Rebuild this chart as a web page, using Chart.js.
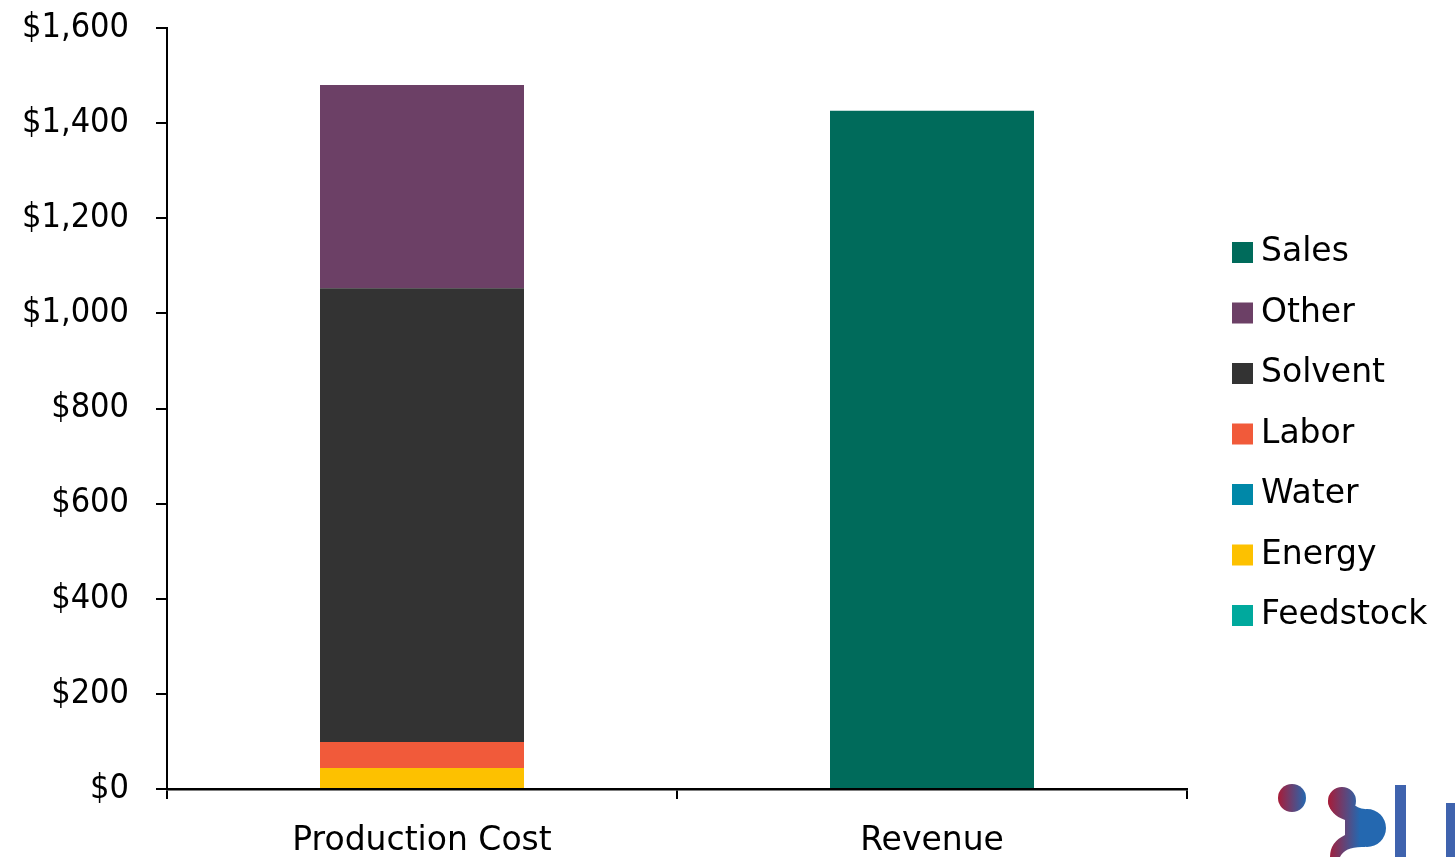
<!DOCTYPE html>
<html>
<head>
<title>Production Cost vs Revenue</title>
<script src="https://cdn.jsdelivr.net/npm/chart.js@4.4.1/dist/chart.umd.min.js"></script>
<style>
  html, body {margin: 0; padding: 0; background: #fff;}
  #wrap {width: 1455px; height: 857px;}
</style>
</head>
<body>
<div id="wrap"><canvas id="myChart" width="1455" height="857"></canvas></div>
<script>
// categories and series (values in $)
const categories = ['Production Cost', 'Revenue'];
const feedstock = [0, 0];
const energy = [44, 0];
const water = [0, 0];
const labor = [55, 0];
const solvent = [954, 0];
const other = [427, 0];
const sales = [0, 1426];
const yMin = 0, yMax = 1600, yStep = 200;

const fontFamily = '"DejaVu Sans", sans-serif';
const tickFamily = '"DejaVu Sans Condensed", "DejaVu Sans", sans-serif';
Chart.defaults.font.family = fontFamily;
Chart.defaults.color = '#000';

// legend drawn on the right, Sales first (reverse of stack order)
const sideLegend = {
  id: 'sideLegend',
  afterDraw(chart) {
    const ctx = chart.ctx;
    const sets = chart.data.datasets.slice().reverse();
    const x = chart.chartArea.right + 45;
    ctx.save();
    ctx.font = '33px ' + fontFamily;
    ctx.textBaseline = 'middle';
    sets.forEach((ds, i) => {
      const y = 252.5 + i * 60.5;
      ctx.fillStyle = ds.backgroundColor;
      ctx.fillRect(x, y - 10.5, 21, 21);
      ctx.fillStyle = '#000';
      ctx.fillText(ds.label, x + 29, y);
    });
    ctx.restore();
  }
};

// the partial logo in the bottom right corner
const logo = {
  id: 'logo',
  afterDraw(chart) {
    const ctx = chart.ctx;
    ctx.save();
    let g = ctx.createLinearGradient(1278, 0, 1306, 0);
    g.addColorStop(0, '#a81c38');
    g.addColorStop(1, '#2468b0');
    ctx.fillStyle = g;
    ctx.beginPath();
    ctx.arc(1292, 798, 14, 0, Math.PI * 2);
    ctx.fill();

    g = ctx.createLinearGradient(1328, 0, 1386, 0);
    g.addColorStop(0, '#a81c38');
    g.addColorStop(0.55, '#2468b0');
    g.addColorStop(1, '#2468b0');
    ctx.fillStyle = g;
    ctx.beginPath();
    ctx.arc(1342, 801, 14, 0, Math.PI * 2);
    ctx.arc(1367, 828, 19, 0, Math.PI * 2);
    ctx.fill();
    ctx.beginPath();
    ctx.moveTo(1342, 787);
    ctx.quadraticCurveTo(1350, 808, 1365, 809);
    ctx.lineTo(1365, 847);
    ctx.quadraticCurveTo(1345, 846, 1340, 857);
    ctx.lineTo(1330, 857);
    ctx.quadraticCurveTo(1330, 842, 1345, 835);
    ctx.lineTo(1345, 820);
    ctx.quadraticCurveTo(1330, 815, 1328, 801);
    ctx.closePath();
    ctx.fill();

    ctx.fillStyle = '#3f63ae';
    ctx.fillRect(1395, 785, 11, 72);
    ctx.fillRect(1446, 803, 9, 54);
    ctx.restore();
  }
};

const ctx = document.getElementById('myChart');
const chart = new Chart(ctx, {
  type: 'bar',
  data: {
    labels: categories,
    datasets: [
      {label: 'Feedstock', data: feedstock, backgroundColor: '#00a99d'},
      {label: 'Energy', data: energy, backgroundColor: '#fdc100'},
      {label: 'Water', data: water, backgroundColor: '#0088a8'},
      {label: 'Labor', data: labor, backgroundColor: '#f15a3a'},
      {label: 'Solvent', data: solvent, backgroundColor: '#333333'},
      {label: 'Other', data: other, backgroundColor: '#6c4066'},
      {label: 'Sales', data: sales, backgroundColor: '#006b5b'}
    ]
  },
  options: {
    responsive: false,
    animation: false,
    devicePixelRatio: 1,
    datasets: {bar: {categoryPercentage: 1, barPercentage: 0.4, borderWidth: 0}},
    layout: {padding: {top: 28, right: 268, bottom: 0, left: 0}},
    plugins: {legend: {display: false}, tooltip: {enabled: false}},
    scales: {
      x: {
        stacked: true,
        grid: {drawOnChartArea: false, offset: true, tickLength: 10, color: '#000', lineWidth: 2},
        border: {color: '#000', width: 2.5},
        ticks: {font: {size: 33}, padding: 23, color: '#000'},
        afterFit(scale) { scale.height = 68; }
      },
      y: {
        stacked: true,
        min: yMin,
        max: yMax,
        grid: {drawOnChartArea: false, tickLength: 11, color: '#000', lineWidth: 2},
        border: {color: '#000', width: 2},
        ticks: {
          stepSize: yStep,
          font: {size: 34, family: tickFamily},
          padding: 27,
          color: '#000',
          callback: v => '$' + v.toLocaleString('en-US')
        },
        afterFit(scale) {
          scale.width = 167;
          // the tick padding is only meant for the horizontal gap
          scale.paddingTop = 0;
          scale.paddingBottom = 0;
        }
      }
    }
  },
  plugins: [sideLegend, logo]
});
</script>
</body>
</html>
